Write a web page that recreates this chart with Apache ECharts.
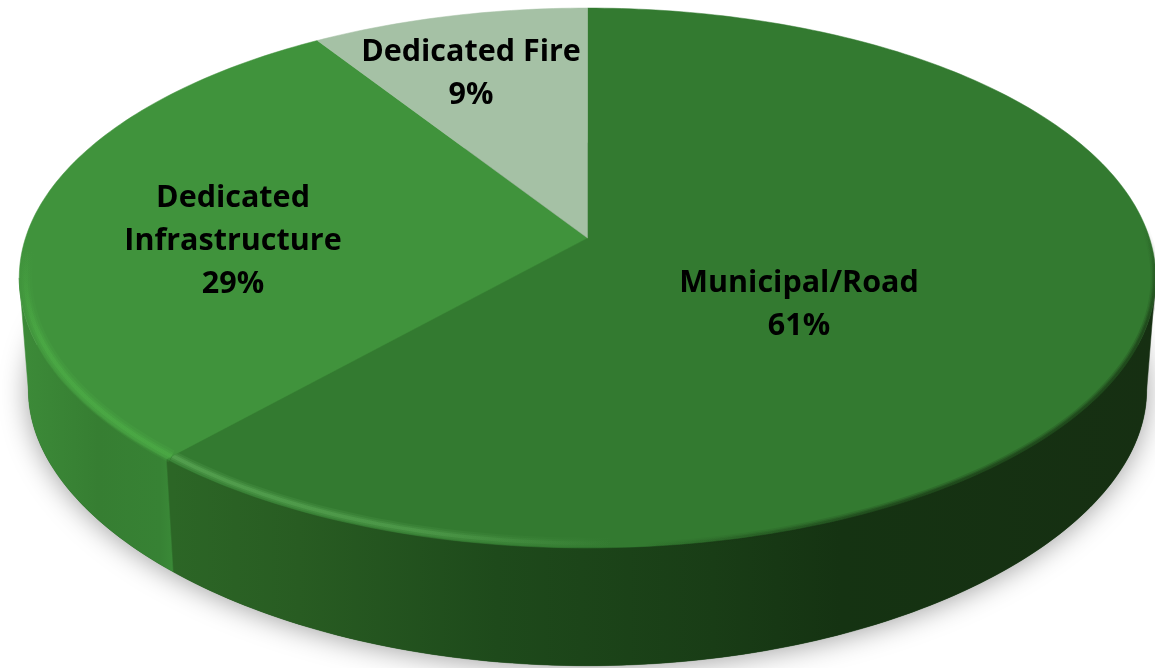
<!DOCTYPE html>
<html>
<head>
<meta charset="utf-8">
<title>Pie</title>
<style>
html,body{margin:0;padding:0;background:#fff;}
#main{width:1155px;height:668px;overflow:hidden;}
</style>
<script src="https://cdn.jsdelivr.net/npm/echarts@6/dist/echarts.min.js"></script>
</head>
<body>
<div id="main"></div>
<script>
// data
var categories = ['Municipal/Road', 'Dedicated\nInfrastructure', 'Dedicated Fire'];
var shares = [61, 29, 9];

// look of the slices, same order as categories
var faceColors = ['#337a30', '#40933c', '#a5c1a5'];
var labelAnchors = [[799, 305], [233, 241], [471, 74]];

// tilted disc: a circle seen in perspective
var CX = 587.5, CY = 238, RX = 562, RY = 264, K = 0.148;
// lower rim has its own fit
var LOW_RX = 553, LOW_RY = 251, LOW_K = 0.2, LOW_DROP = 114;
var SIDE = 98.5; // angle where the rim touches the outline

var total = shares.reduce(function (a, b) { return a + b; }, 0);

function project(deg, f, lower) {
	var t = deg * Math.PI / 180;
	var u = f * Math.sin(t), v = f * Math.cos(t);
	if (lower) {
		return [CX + LOW_RX * u / (1 + K * v), CY + LOW_DROP - LOW_RY * v / (1 + LOW_K * v)];
	}
	var w = 1 + K * v;
	return [CX + RX * u / w, CY - RY * v / w];
}
function arc(a, b, f, lower) {
	var pts = [], n = Math.max(2, Math.ceil(Math.abs(b - a)));
	for (var i = 0; i <= n; i++) pts.push(project(a + (b - a) * i / n, f, lower));
	return pts;
}
function sliceRange(idx) {
	var start = 0;
	for (var i = 0; i < idx; i++) start += shares[i];
	return [start / total * 360, (start + shares[idx]) / total * 360];
}
function hGrad(x1, x2, stops) {
	return new echarts.graphic.LinearGradient(x1, 0, x2, 0, stops, true);
}
function vGrad(y1, y2, stops) {
	return new echarts.graphic.LinearGradient(0, y1, 0, y2, stops, true);
}
function stroke(pts, color, width) {
	return {type: 'polyline', shape: {points: pts}, style: {fill: null, stroke: color, lineWidth: width}};
}

var wallFills = [
	hGrad(172, 1155, [
		{offset: 0, color: '#2c6626'}, {offset: 0.13, color: '#285c22'},
		{offset: 0.33, color: '#1e4a1b'}, {offset: 0.55, color: '#193d16'},
		{offset: 0.68, color: '#153312'}, {offset: 1, color: '#162f12'}
	]),
	hGrad(25, 172, [
		{offset: 0, color: '#3c8a38'}, {offset: 0.5, color: '#367e32'},
		{offset: 0.92, color: '#378234'}, {offset: 1, color: '#3a8937'}
	])
];

function rimMuni(a) {
	return hGrad(172, 1155, [
		{offset: 0, color: 'rgba(110,190,104,' + a + ')'}, {offset: 0.25, color: 'rgba(104,184,98,' + a * 0.85 + ')'},
		{offset: 0.45, color: 'rgba(104,184,98,0)'}, {offset: 1, color: 'rgba(104,184,98,0)'}
	]);
}
function rimInfra(a) {
	return vGrad(250, 340, [
		{offset: 0, color: 'rgba(82,184,74,0)'}, {offset: 1, color: 'rgba(82,184,74,' + a + ')'}
	]);
}
function edgeRight(a) {
	return vGrad(225, 330, [
		{offset: 0, color: 'rgba(22,50,18,0)'}, {offset: 1, color: 'rgba(22,50,18,' + a + ')'}
	]);
}
function edgeBottom(a) {
	return hGrad(640, 915, [
		{offset: 0, color: 'rgba(22,50,18,0)'}, {offset: 1, color: 'rgba(22,50,18,' + a + ')'}
	]);
}

function renderBase(params, api) {
	return {
		type: 'polygon',
		shape: {points: arc(0, 360, 1, true)},
		style: {fill: '#1d471a', shadowBlur: 28, shadowColor: 'rgba(0,0,0,0.38)', shadowOffsetY: 2}
	};
}

function renderWall(params, api) {
	var r = sliceRange(params.dataIndex);
	var a = Math.max(r[0], SIDE), b = Math.min(r[1], 360 - SIDE);
	if (a >= b) return {type: 'group', children: []};
	var pts = arc(a, b, 1, false).concat(arc(b, a, 1, true));
	var fill = wallFills[params.dataIndex];
	return {
		type: 'polygon',
		shape: {points: pts},
		style: {fill: fill, stroke: fill, lineWidth: 0.5}
	};
}

function renderFace(params, api) {
	var i = params.dataIndex;
	var r = sliceRange(i);
	var pts = [[CX, CY]].concat(arc(r[0], r[1], 1, false));
	var kids = [{
		type: 'polygon',
		shape: {points: pts},
		style: {fill: faceColors[i], stroke: faceColors[i], lineWidth: 0.5}
	}];
	var rim;
	if (i === 0) {
		// dark soft edge on the right, light bevel on the left
		var right = arc(SIDE - 25, 150, 0.998, false);
		var bottom = arc(150, r[1], 0.998, false);
		[[8, 0.2], [5, 0.3], [2.5, 0.4]].forEach(function (s) {
			kids.push(stroke(right, edgeRight(s[1]), s[0]));
			kids.push(stroke(bottom, edgeBottom(s[1]), s[0]));
		});
		rim = arc(150, r[1], 0.987, false);
		[[11, 0.14], [7, 0.2], [3.5, 0.3]].forEach(function (s) {
			kids.push(stroke(rim, rimMuni(s[1]), s[0]));
		});
	}
	if (i === 1) {
		rim = arc(r[0], 285, 0.989, false);
		[[13, 0.14], [8, 0.2], [4, 0.3]].forEach(function (s) {
			kids.push(stroke(rim, rimInfra(s[1]), s[0]));
		});
	}
	return {type: 'group', children: kids};
}

function renderLabel(params, api) {
	var i = params.dataIndex;
	return {
		type: 'text',
		style: {
			x: labelAnchors[i][0],
			y: labelAnchors[i][1],
			text: categories[i] + '\n' + api.value(0) + '%',
			fill: '#000',
			font: 'bold 30.5px "Open Sans"',
			lineHeight: 43,
			align: 'center',
			verticalAlign: 'middle'
		}
	};
}

var myChart = echarts.init(document.getElementById('main'));
var option = {
	animation: false,
	backgroundColor: '#fff',
	series: [
		{type: 'custom', coordinateSystem: 'none', renderItem: renderBase, data: [total], silent: true, z: 1},
		{type: 'custom', coordinateSystem: 'none', renderItem: renderWall, data: shares, z: 2},
		{type: 'custom', coordinateSystem: 'none', renderItem: renderFace, data: shares, z: 3},
		{type: 'custom', coordinateSystem: 'none', renderItem: renderLabel, data: shares, z: 4}
	]
};
myChart.setOption(option);
</script>
</body>
</html>
